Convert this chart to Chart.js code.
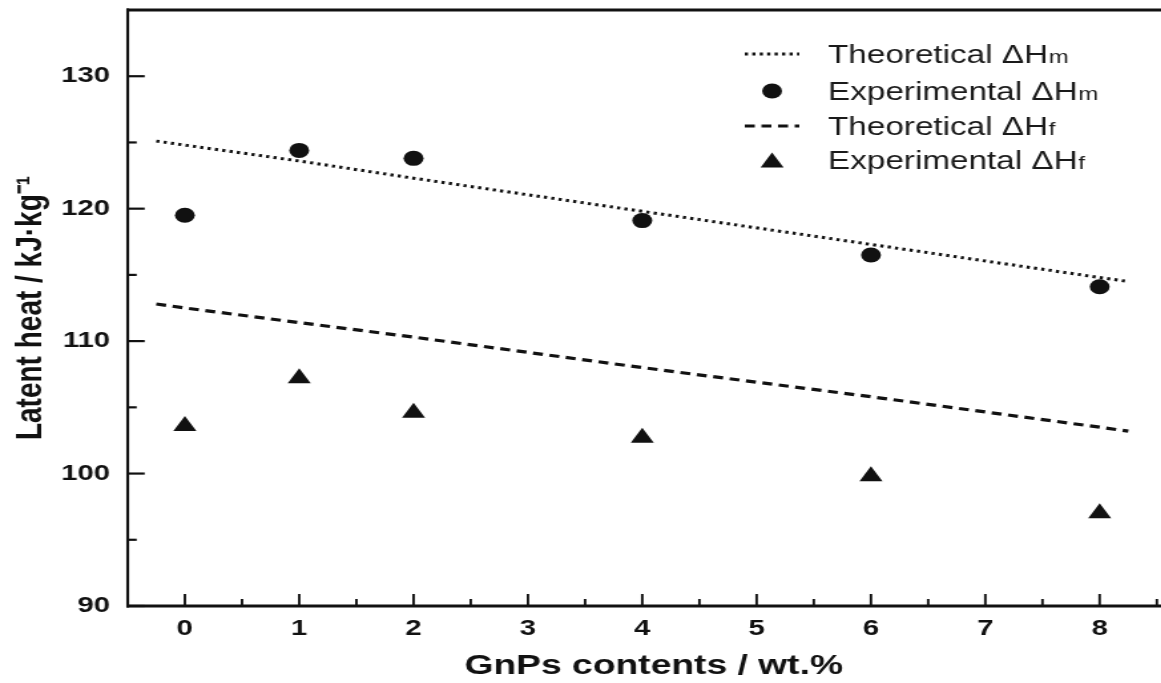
<!DOCTYPE html>
<html>
<head>
<meta charset="utf-8">
<script src="https://cdn.jsdelivr.net/npm/chart.js@4.4.1/dist/chart.umd.min.js"></script>
<style>
  html, body { margin: 0; padding: 0; background: #fff; overflow: hidden; }
  /* the figure is drawn narrow and widened, like the published plot */
  #latentChart { display: block; transform: scaleX(1.33); transform-origin: 0 0; }
</style>
</head>
<body>
<canvas id="latentChart" width="897" height="683"></canvas>
<script>
// GnPs loading of the composite samples (wt.%)
const gnpContent = [0, 1, 2, 4, 6, 8];
// measured enthalpies (kJ/kg)
const expMelting = [119.5, 124.4, 123.8, 119.1, 116.5, 114.1];
const expFreezing = [103.6, 107.2, 104.6, 102.7, 99.8, 97.0];
// theoretical enthalpies, drawn a little past the first and last sample
const theoryContent = [-0.25, 0, 1, 2, 4, 6, 8, 8.25];
const theoryMelting = [125.1, 124.8, 123.6, 122.3, 119.8, 117.3, 114.8, 114.5];
const theoryFreezing = [112.8, 112.5, 111.4, 110.3, 108.0, 105.8, 103.5, 103.2];
// axis ticks
const xTicks = [0, 1, 2, 3, 4, 5, 6, 7, 8];
const yTicks = [90, 100, 110, 120, 130];
// legend names, last letter is printed small
const seriesNames = ['Theoretical ΔH', 'Experimental ΔH', 'Theoretical ΔH', 'Experimental ΔH'];
const seriesSubs = ['m', 'm', 'f', 'f'];

const ink = '#111';
const family = '"Liberation Sans", Arial, Helvetica, sans-serif';

const toPoints = (xs, ys) => xs.map((x, i) => ({x: x, y: ys[i]}));

// keep the plot box where it is, labels may hang over the edges
function noEdgePadding(s) {
    s.paddingTop = 0; s.paddingBottom = 0;
    s.paddingLeft = 0; s.paddingRight = 0;
}

// box lines and inward tick marks
const framePlugin = {
    id: 'frame',
    afterDraw(chart) {
        const ctx = chart.ctx;
        const a = chart.chartArea;
        const xs = chart.scales.x, ys = chart.scales.y;
        ctx.save();
        ctx.strokeStyle = ink;
        ctx.lineCap = 'butt';

        ctx.lineWidth = 2.2;
        yTicks.forEach(v => {
            const py = ys.getPixelForValue(v);
            ctx.beginPath(); ctx.moveTo(a.left, py); ctx.lineTo(a.left + 12.8, py); ctx.stroke();
            const pm = ys.getPixelForValue(v + 5);
            if (pm > a.top + 2) {
                ctx.beginPath(); ctx.moveTo(a.left, pm); ctx.lineTo(a.left + 6.8, pm); ctx.stroke();
            }
        });

        ctx.lineWidth = 1.9;
        xTicks.forEach(v => {
            const px = xs.getPixelForValue(v);
            ctx.beginPath(); ctx.moveTo(px, a.bottom); ctx.lineTo(px, a.bottom - 12); ctx.stroke();
            const pm = xs.getPixelForValue(v + 0.5);
            ctx.beginPath(); ctx.moveTo(pm, a.bottom); ctx.lineTo(pm, a.bottom - 7); ctx.stroke();
        });

        // frame
        ctx.lineWidth = 2.8;
        ctx.beginPath();
        ctx.moveTo(a.left - 1, a.top); ctx.lineTo(a.right, a.top);
        ctx.moveTo(a.left - 1, a.bottom); ctx.lineTo(a.right, a.bottom);
        ctx.stroke();
        ctx.lineWidth = 2.1;
        ctx.beginPath();
        ctx.moveTo(a.left, a.top - 1.4); ctx.lineTo(a.left, a.bottom + 1.4);
        ctx.stroke();
        ctx.restore();
    }
};

// legend in the upper right corner of the plot
const legendPlugin = {
    id: 'cornerLegend',
    afterDraw(chart) {
        const ctx = chart.ctx;
        const rowY = [54, 91, 126, 160];
        const x0 = 560, x1 = 601, textX = 622.6;
        ctx.save();
        chart.data.datasets.forEach((ds, i) => {
            const y = rowY[i];
            ctx.strokeStyle = ink;
            ctx.fillStyle = ink;
            if (ds.showLine) {
                ctx.lineWidth = ds.borderWidth;
                ctx.lineCap = 'butt';
                ctx.setLineDash(ds.borderDash);
                ctx.beginPath(); ctx.moveTo(x0, y); ctx.lineTo(x1, y); ctx.stroke();
                ctx.setLineDash([]);
            } else {
                const dy = ds.pointStyle === 'triangle' ? 2.5 : 0;
                Chart.helpers.drawPoint(ctx, {
                    pointStyle: ds.pointStyle, radius: ds.pointRadius, rotation: 0, borderWidth: 0
                }, (x0 + x1) / 2, y + dy);
            }
            ctx.textAlign = 'left';
            ctx.textBaseline = 'alphabetic';
            ctx.font = '25px ' + family;
            ctx.fillStyle = '#1a1a1a';
            ctx.fillText(seriesNames[i], textX, y + 9);
            const w = ctx.measureText(seriesNames[i]).width;
            ctx.font = '18px ' + family;
            ctx.fillText(seriesSubs[i], textX + w + 0.5, y + 9);
        });
        ctx.restore();
    }
};

const ctx = document.getElementById('latentChart').getContext('2d');
const latentChart = new Chart(ctx, {
    type: 'scatter',
    data: {
        datasets: [{
            label: seriesNames[0] + seriesSubs[0],
            data: toPoints(theoryContent, theoryMelting),
            showLine: true,
            borderColor: ink,
            borderWidth: 3,
            borderDash: [2.4, 3.2],
            borderCapStyle: 'butt',
            pointRadius: 0,
            tension: 0
        }, {
            label: seriesNames[1] + seriesSubs[1],
            data: toPoints(gnpContent, expMelting),
            pointStyle: 'circle',
            pointRadius: 7.5,
            pointBackgroundColor: ink,
            pointBorderColor: ink,
            pointBorderWidth: 0
        }, {
            label: seriesNames[2] + seriesSubs[2],
            data: toPoints(theoryContent, theoryFreezing),
            showLine: true,
            borderColor: ink,
            borderWidth: 3.2,
            borderDash: [7.5, 5],
            borderCapStyle: 'butt',
            pointRadius: 0,
            tension: 0
        }, {
            label: seriesNames[3] + seriesSubs[3],
            data: toPoints(gnpContent, expFreezing),
            pointStyle: 'triangle',
            pointRadius: 10,
            pointBackgroundColor: ink,
            pointBorderColor: ink,
            pointBorderWidth: 0
        }]
    },
    options: {
        responsive: false,
        animation: false,
        devicePixelRatio: 1,
        layout: { padding: { top: 7, left: 0, right: 0, bottom: 0 } },
        plugins: {
            legend: { display: false },
            tooltip: { enabled: false }
        },
        scales: {
            x: {
                type: 'linear',
                min: -0.5,
                max: 8.7,
                grid: { display: false, drawTicks: false },
                border: { display: false },
                afterBuildTicks: s => { s.ticks = xTicks.map(v => ({value: v})); },
                afterFit: s => { s.height = 77; noEdgePadding(s); },
                ticks: {
                    padding: 9.5,
                    maxRotation: 0,
                    color: ink,
                    font: { family: family, size: 22, weight: 'bold' }
                },
                title: {
                    display: true,
                    text: 'GnPs contents / wt.%',
                    color: ink,
                    padding: { top: 0, bottom: 0 },
                    font: { family: family, size: 28, weight: 'bold' }
                }
            },
            y: {
                type: 'linear',
                min: 90,
                max: 135,
                grid: { display: false, drawTicks: false },
                border: { display: false },
                afterBuildTicks: s => { s.ticks = yTicks.map(v => ({value: v})); },
                afterFit: s => { s.width = 96; noEdgePadding(s); },
                ticks: {
                    padding: 13.3,
                    color: ink,
                    font: { family: family, size: 22, weight: 'bold' }
                },
                title: {
                    display: true,
                    text: 'Latent heat / kJ·kg⁻¹',
                    color: ink,
                    padding: { top: 6.4, bottom: 0 },
                    font: { family: family, size: 28, weight: 'bold' }
                }
            }
        }
    },
    plugins: [framePlugin, legendPlugin]
});
</script>
</body>
</html>
